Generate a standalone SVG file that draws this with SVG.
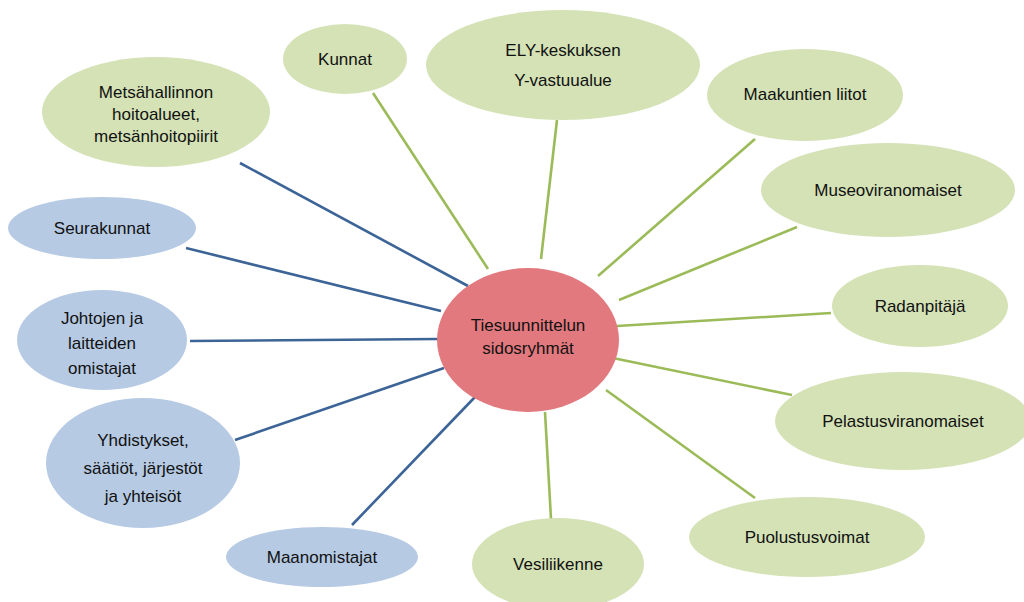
<svg xmlns="http://www.w3.org/2000/svg" width="1024" height="602" viewBox="0 0 1024 602">
<style>
.g{fill:#d4e2b6;stroke:none}
.b{fill:#b6cae4;stroke:none}
.c{fill:#e2797e;stroke:none}
text{font-family:"Liberation Sans","Noto Sans",sans-serif;font-size:17px;fill:#111;text-anchor:middle}
.lb{stroke:#3c6496;stroke-width:2.6;fill:none}
.lg{stroke:#9bbb59;stroke-width:2.6;fill:none}
</style>
<rect width="1024" height="602" fill="#fff"/>
<g id="connectors">
<line class="lb" x1="240" y1="163" x2="468" y2="286"/>
<line class="lb" x1="186" y1="248" x2="441" y2="311"/>
<line class="lb" x1="190" y1="341" x2="438" y2="339"/>
<line class="lb" x1="235" y1="440" x2="444" y2="368"/>
<line class="lb" x1="352" y1="525" x2="475" y2="397"/>
<line class="lg" x1="373" y1="93" x2="488" y2="269"/>
<line class="lg" x1="557" y1="120" x2="541" y2="259"/>
<line class="lg" x1="755" y1="139" x2="598" y2="276"/>
<line class="lg" x1="797" y1="227" x2="619" y2="300"/>
<line class="lg" x1="831" y1="313" x2="617" y2="326"/>
<line class="lg" x1="792" y1="395" x2="608" y2="357"/>
<line class="lg" x1="755" y1="498" x2="606" y2="390"/>
<line class="lg" x1="545" y1="412" x2="551" y2="519"/>
</g>
<g id="center"><ellipse class="c" cx="528" cy="340" rx="91" ry="72"/><text x="528" y="331">Tiesuunnittelun</text><text x="528" y="354">sidosryhmät</text></g>
<g id="kunnat"><ellipse class="g" cx="345" cy="59" rx="62" ry="35"/><text x="345" y="65">Kunnat</text></g>
<g id="ely"><ellipse class="g" cx="563" cy="65" rx="137" ry="55"/><text x="563" y="56">ELY-keskuksen</text><text x="563" y="86">Y-vastuualue</text></g>
<g id="maakuntien"><ellipse class="g" cx="805" cy="95" rx="98" ry="46"/><text x="805" y="100">Maakuntien liitot</text></g>
<g id="museo"><ellipse class="g" cx="888" cy="190" rx="127" ry="47"/><text x="888" y="196">Museoviranomaiset</text></g>
<g id="radanpitaja"><ellipse class="g" cx="920" cy="306" rx="88" ry="41"/><text x="920" y="312">Radanpitäjä</text></g>
<g id="pelastus"><ellipse class="g" cx="903" cy="421" rx="128" ry="49"/><text x="903" y="427">Pelastusviranomaiset</text></g>
<g id="puolustus"><ellipse class="g" cx="807" cy="537" rx="118" ry="40"/><text x="807" y="543">Puolustusvoimat</text></g>
<g id="vesi"><ellipse class="g" cx="558" cy="564" rx="86" ry="46"/><text x="558" y="570">Vesiliikenne</text></g>
<g id="maanomistajat"><ellipse class="b" cx="322" cy="557" rx="96" ry="30"/><text x="322" y="563">Maanomistajat</text></g>
<g id="yhdistykset"><ellipse class="b" cx="143" cy="463" rx="97" ry="65"/><text x="143" y="446">Yhdistykset,</text><text x="143" y="474">säätiöt, järjestöt</text><text x="143" y="502">ja yhteisöt</text></g>
<g id="johtojen"><ellipse class="b" cx="102" cy="340" rx="85" ry="50"/><text x="102" y="324">Johtojen ja</text><text x="102" y="349">laitteiden</text><text x="102" y="374">omistajat</text></g>
<g id="seurakunnat"><ellipse class="b" cx="102" cy="228" rx="94" ry="31"/><text x="102" y="234">Seurakunnat</text></g>
<g id="metsa"><ellipse class="g" cx="156" cy="112" rx="114" ry="55"/><text x="156" y="98">Metsähallinnon</text><text x="156" y="120">hoitoalueet,</text><text x="156" y="142">metsänhoitopiirit</text></g>
</svg>
